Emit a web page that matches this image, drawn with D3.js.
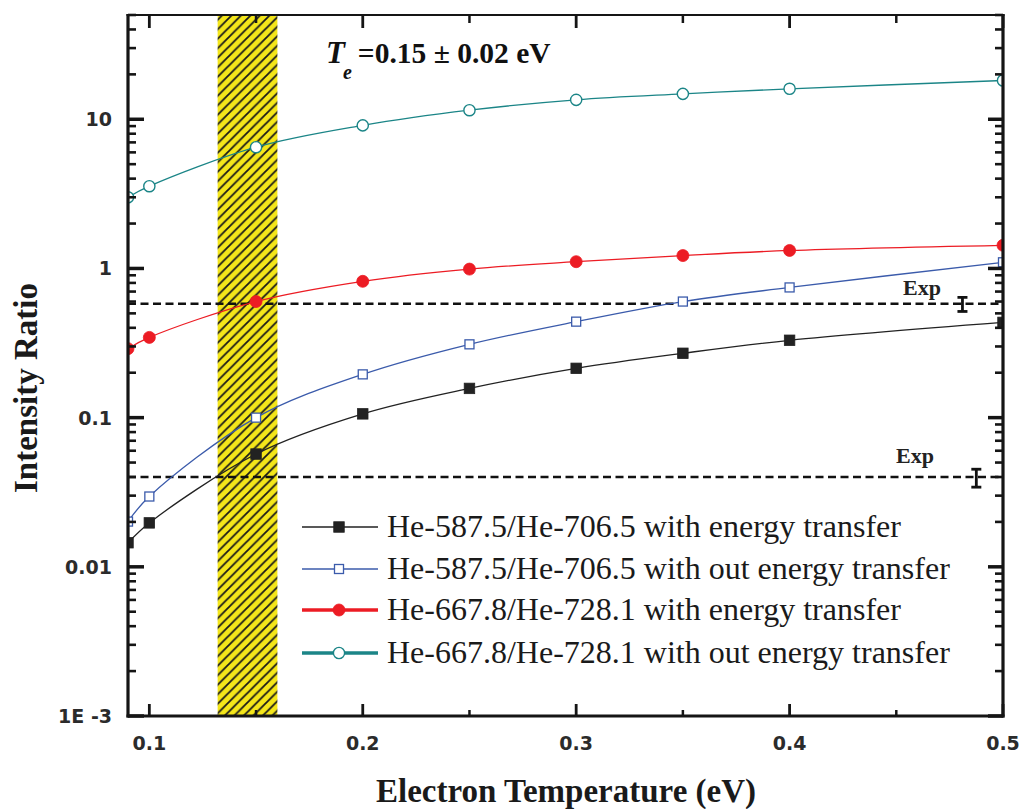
<!DOCTYPE html>
<html>
<head>
<meta charset="utf-8">
<script src="https://cdn.jsdelivr.net/npm/d3@7"></script>
<style>
  html, body { margin: 0; padding: 0; background: #fff; }
  svg { display: block; }
</style>
</head>
<body>
<svg id="chart" width="1019" height="809"></svg>
<script>
// Electron temperature grid (eV)
const temperature = [0.09, 0.1, 0.15, 0.2, 0.25, 0.3, 0.35, 0.4, 0.5];

// Intensity ratios for each line pair
const he5875With    = [0.0145, 0.0197, 0.057, 0.106, 0.157, 0.214, 0.27, 0.33, 0.435];
const he5875Without = [0.0201, 0.0296, 0.100, 0.195, 0.31, 0.44, 0.60, 0.746, 1.10];
const he6678With    = [0.29, 0.345, 0.60, 0.82, 0.99, 1.11, 1.22, 1.32, 1.43];
const he6678Without = [3.0, 3.56, 6.5, 9.1, 11.5, 13.5, 14.8, 16.0, 18.2];

const seriesNames = [
  "He-587.5/He-706.5 with energy transfer",
  "He-587.5/He-706.5 with out energy transfer",
  "He-667.8/He-728.1 with energy transfer",
  "He-667.8/He-728.1 with out energy transfer"
];

// Measured ratios (horizontal reference lines) with error bars
const expRatio = [0.58, 0.04];
const expErrLow = [0.515, 0.0342];
const expErrHigh = [0.64, 0.0451];
const expErrX = [0.481, 0.4875];

// Shaded band for the inferred electron temperature
const bandRange = [0.132, 0.160];

const xTicks = [0.1, 0.2, 0.3, 0.4, 0.5];
const xTickLabels = ["0.1", "0.2", "0.3", "0.4", "0.5"];
const xMinorTicks = [0.15, 0.25, 0.35, 0.45];
const yTicks = [0.001, 0.01, 0.1, 1, 10];
const yTickLabels = ["1E -3", "0.01", "0.1", "1", "10"];

const svg = d3.select("#chart");
const L = 128, R = 1003, T = 15, B = 716;

const x = d3.scaleLinear().domain([0.09, 0.5]).range([L, R]);
const y = d3.scaleLog().domain([0.001, 50]).range([B, T]);

const defs = svg.append("defs");
defs.append("clipPath").attr("id", "plotClip")
  .append("rect").attr("x", L).attr("y", T).attr("width", R - L).attr("height", B - T);

const hatch = defs.append("pattern")
  .attr("id", "hatch").attr("patternUnits", "userSpaceOnUse")
  .attr("width", 9.5).attr("height", 9.5);
hatch.append("rect").attr("width", 9.5).attr("height", 9.5).attr("fill", "#f4e61a");
hatch.append("path")
  .attr("d", "M0,9.5 L9.5,0 M-2,2 L2,-2 M7.5,11.5 L11.5,7.5")
  .attr("stroke", "#1a1a1a").attr("stroke-width", 1.8);

const plot = svg.append("g").attr("clip-path", "url(#plotClip)");

// Temperature band
plot.append("rect")
  .attr("x", x(bandRange[0])).attr("y", T)
  .attr("width", x(bandRange[1]) - x(bandRange[0]))
  .attr("height", B - T)
  .attr("fill", "url(#hatch)");

// Measured-ratio dashed lines
expRatio.forEach(v => {
  plot.append("line")
    .attr("x1", L).attr("x2", R).attr("y1", y(v)).attr("y2", y(v))
    .attr("stroke", "#111").attr("stroke-width", 2.6)
    .attr("stroke-dasharray", "8,4.5");
});

// Error bars
expRatio.forEach((v, i) => {
  const g = plot.append("g").attr("stroke", "#111").attr("stroke-width", 2.8);
  const cx = x(expErrX[i]);
  g.append("line").attr("x1", cx).attr("x2", cx)
    .attr("y1", y(expErrLow[i])).attr("y2", y(expErrHigh[i]));
  [expErrLow[i], expErrHigh[i]].forEach(e => {
    g.append("line").attr("x1", cx - 5).attr("x2", cx + 5)
      .attr("y1", y(e)).attr("y2", y(e));
  });
});

// "Exp" labels
const expLabelPos = [[922, 295], [915, 463]];
expLabelPos.forEach(p => {
  svg.append("text").attr("x", p[0]).attr("y", p[1])
    .attr("text-anchor", "middle")
    .attr("font-family", "'Liberation Serif', 'Times New Roman', serif")
    .attr("font-weight", "bold").attr("font-size", 22).attr("fill", "#222")
    .text("Exp");
});

const series = [
  { values: he5875With,    color: "#222222", marker: "square", filled: true,  lw: 1.3, legendLw: 1.6 },
  { values: he5875Without, color: "#3b5bab", marker: "square", filled: false, lw: 1.3, legendLw: 1.6 },
  { values: he6678With,    color: "#ec1c24", marker: "circle", filled: true,  lw: 1.3, legendLw: 3.6 },
  { values: he6678Without, color: "#1b8587", marker: "circle", filled: false, lw: 1.3, legendLw: 3.6 }
];

const line = d3.line()
  .x(d => x(d[0])).y(d => y(d[1]))
  .curve(d3.curveCatmullRom.alpha(0.5));

function drawMarker(g, s, cx, cy) {
  if (s.marker === "square") {
    const size = s.filled ? 10.5 : 9;
    g.append("rect")
      .attr("x", cx - size / 2).attr("y", cy - size / 2)
      .attr("width", size).attr("height", size)
      .attr("fill", s.filled ? s.color : "#fff")
      .attr("stroke", s.color).attr("stroke-width", s.filled ? 0.8 : 1.3);
  } else {
    g.append("circle")
      .attr("cx", cx).attr("cy", cy).attr("r", s.filled ? 6 : 5.6)
      .attr("fill", s.filled ? s.color : "#fff")
      .attr("stroke", s.color).attr("stroke-width", s.filled ? 0.8 : 1.4);
  }
}

series.forEach(s => {
  const pts = temperature.map((t, i) => [t, s.values[i]]);
  plot.append("path").datum(pts)
    .attr("d", line).attr("fill", "none")
    .attr("stroke", s.color).attr("stroke-width", s.lw);
  const mg = plot.append("g");
  pts.forEach(p => drawMarker(mg, s, x(p[0]), y(p[1])));
});

// Frame and ticks
const axisCol = "#151515";
const frame = svg.append("g").attr("stroke", axisCol).attr("fill", "none");
frame.append("line").attr("x1", L - 1.5).attr("x2", R + 1.5).attr("y1", T).attr("y2", T).attr("stroke-width", 2);
frame.append("line").attr("x1", L - 1.5).attr("x2", R + 1.5).attr("y1", B).attr("y2", B).attr("stroke-width", 3.2);
frame.append("line").attr("x1", L).attr("x2", L).attr("y1", T - 1).attr("y2", B + 1.5).attr("stroke-width", 3.2);
frame.append("line").attr("x1", R).attr("x2", R).attr("y1", T - 1).attr("y2", B + 1.5).attr("stroke-width", 3.2);

const ticks = svg.append("g").attr("stroke", axisCol);
xTicks.forEach(t => {
  ticks.append("line").attr("x1", x(t)).attr("x2", x(t)).attr("y1", B).attr("y2", B - 12).attr("stroke-width", 2.8);
  ticks.append("line").attr("x1", x(t)).attr("x2", x(t)).attr("y1", T).attr("y2", T + 13).attr("stroke-width", 2.8);
});
xMinorTicks.forEach(t => {
  ticks.append("line").attr("x1", x(t)).attr("x2", x(t)).attr("y1", B).attr("y2", B - 6).attr("stroke-width", 2.5);
  ticks.append("line").attr("x1", x(t)).attr("x2", x(t)).attr("y1", T).attr("y2", T + 8).attr("stroke-width", 2.5);
});

yTicks.forEach(v => {
  ticks.append("line").attr("x1", L).attr("x2", L + 16).attr("y1", y(v)).attr("y2", y(v)).attr("stroke-width", 3.5);
  ticks.append("line").attr("x1", R).attr("x2", R - 15).attr("y1", y(v)).attr("y2", y(v)).attr("stroke-width", 3.5);
  for (let k = 2; k <= 9; k++) {
    const m = v * k;
    if (m > 50) break;
    ticks.append("line").attr("x1", L).attr("x2", L + 8).attr("y1", y(m)).attr("y2", y(m)).attr("stroke-width", 2.6);
    ticks.append("line").attr("x1", R).attr("x2", R - 8).attr("y1", y(m)).attr("y2", y(m)).attr("stroke-width", 2.6);
  }
});

// Tick labels
const tickFont = "'DejaVu Sans', Verdana, sans-serif";
xTicks.forEach((t, i) => {
  svg.append("text").attr("x", x(t)).attr("y", 750)
    .attr("text-anchor", "middle")
    .attr("font-family", tickFont).attr("font-weight", "bold")
    .attr("font-size", 19).attr("fill", "#2b2b2b")
    .text(xTickLabels[i]);
});
yTicks.forEach((v, i) => {
  svg.append("text").attr("x", 112).attr("y", y(v) + 7)
    .attr("text-anchor", "end")
    .attr("font-family", tickFont).attr("font-weight", "bold")
    .attr("font-size", 19).attr("fill", "#2b2b2b")
    .text(yTickLabels[i]);
});

// Axis titles
const serif = "'Liberation Serif', 'Times New Roman', serif";
svg.append("text").attr("x", 566).attr("y", 802)
  .attr("text-anchor", "middle")
  .attr("font-family", serif).attr("font-weight", "bold")
  .attr("font-size", 33).attr("fill", "#1a1a1a")
  .text("Electron Temperature (eV)");
svg.append("text")
  .attr("transform", "translate(37,388) rotate(-90)")
  .attr("text-anchor", "middle")
  .attr("font-family", serif).attr("font-weight", "bold")
  .attr("font-size", 33).attr("fill", "#1a1a1a")
  .text("Intensity Ratio");

// Temperature annotation: italic T with subscript e, then the value
const ann = svg.append("text").attr("x", 326).attr("y", 63)
  .attr("font-family", serif).attr("font-weight", "bold").attr("fill", "#111");
ann.append("tspan").attr("font-style", "italic").attr("font-size", 31).text("T");
ann.append("tspan").attr("font-style", "italic").attr("font-size", 20)
  .attr("dx", -2).attr("dy", 16).text("e");
ann.append("tspan").attr("font-size", 29.5).attr("dx", 6).attr("dy", -16).text("=0.15 ± 0.02 eV");

// Legend
const legendY = [527, 569, 610, 653];
const legend = svg.append("g");
series.forEach((s, i) => {
  const ly = legendY[i];
  legend.append("line").attr("x1", 302).attr("x2", 378).attr("y1", ly).attr("y2", ly)
    .attr("stroke", s.color).attr("stroke-width", s.legendLw);
  drawMarker(legend, s, 339, ly);
  legend.append("text").attr("x", 387).attr("y", ly + 10)
    .attr("font-family", serif).attr("font-size", 32).attr("fill", "#1a1a1a")
    .text(seriesNames[i]);
});
</script>
</body>
</html>
